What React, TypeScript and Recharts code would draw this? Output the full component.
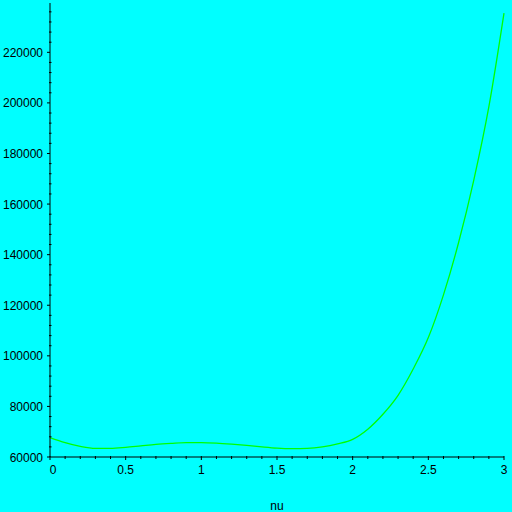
import React from "react";
import { LineChart, Line, XAxis, YAxis } from "recharts";

const nuValues = [
  0, 0.1, 0.2, 0.3, 0.4, 0.5, 0.6, 0.7, 0.8, 0.9, 1.0, 1.1, 1.2, 1.3, 1.4, 1.5,
  1.6, 1.7, 1.8, 1.9, 2.0, 2.1, 2.2, 2.3, 2.4, 2.5, 2.6, 2.7, 2.8, 2.9, 3.0,
];
const fValues = [
  67700, 65700, 64200, 63400, 63400, 63800, 64400, 65000, 65400, 65700, 65700,
  65500, 65100, 64600, 64000, 63500, 63300, 63400, 64000, 65200, 67000, 71000,
  76900, 84400, 94800, 107200, 124100, 144800, 169400, 198500, 235500,
];
const xTicks = [
  0, 0.1, 0.2, 0.3, 0.4, 0.5, 0.6, 0.7, 0.8, 0.9, 1, 1.1, 1.2, 1.3, 1.4, 1.5,
  1.6, 1.7, 1.8, 1.9, 2, 2.1, 2.2, 2.3, 2.4, 2.5, 2.6, 2.7, 2.8, 2.9, 3,
];
const xMajor = [0, 0.5, 1, 1.5, 2, 2.5, 3];
const yTicks = [
  60000, 64000, 68000, 72000, 76000, 80000, 84000, 88000, 92000, 96000, 100000,
  104000, 108000, 112000, 116000, 120000, 124000, 128000, 132000, 136000,
  140000, 144000, 148000, 152000, 156000, 160000, 164000, 168000, 172000,
  176000, 180000, 184000, 188000, 192000, 196000, 200000, 204000, 208000,
  212000, 216000, 220000, 224000, 228000, 232000, 236000,
];
const yMajor = [60000, 80000, 100000, 120000, 140000, 160000, 180000, 200000, 220000];

const data = nuValues.map((nu, i) => ({ nu, f: fValues[i] }));

const FONT = "'Liberation Sans', Arial, sans-serif";

const isIn = (arr: number[], v: number) => arr.some((a) => Math.abs(a - v) < 1e-6);

const XTick = (props: any) => {
  const { x, y, payload } = props;
  const v = payload.value;
  const major = isIn(xMajor, v);
  const shift = v === 0 ? 3 : 0;
  return (
    <g>
      <line x1={x} y1={y - 1} x2={x} y2={y + (major ? 3 : 2)} stroke="#000" strokeWidth={1} />
      {major && (
        <text x={x + shift} y={y + 17} textAnchor="middle" fontSize={12} fontFamily={FONT} fill="#000">
          {String(v)}
        </text>
      )}
    </g>
  );
};

const YTick = (props: any) => {
  const { x, y, payload } = props;
  const v = payload.value;
  const major = isIn(yMajor, v);
  return (
    <g>
      {major ? (
        <line x1={x - 3} y1={y} x2={x} y2={y} stroke="#000" strokeWidth={1} />
      ) : (
        <line x1={x - 1} y1={y} x2={x + 1.5} y2={y} stroke="#000" strokeWidth={1} />
      )}
      {major && (
        <text x={x - 7} y={y + 4.5} textAnchor="end" fontSize={12} fontFamily={FONT} fill="#000">
          {String(v)}
        </text>
      )}
    </g>
  );
};

export default function App() {
  return (
    <div style={{ position: "absolute", left: 0, top: 0, width: 512, height: 512, background: "#00ffff" }}>
      <LineChart
        width={512}
        height={512}
        data={data}
        margin={{ top: 3, right: 8, left: 0, bottom: 0 }}
        style={{ background: "#00ffff" }}
      >
        <XAxis
          dataKey="nu"
          type="number"
          domain={[0, 3]}
          ticks={xTicks}
          interval={0}
          height={55}
          tickSize={0}
          tickMargin={0}
          tickLine={false}
          axisLine={{ stroke: "#000", strokeWidth: 1 }}
          tick={<XTick />}
          label={{ value: "nu", position: "insideBottom", offset: 2, fontSize: 12, fontFamily: FONT, fill: "#000" }}
        />
        <YAxis
          type="number"
          domain={[60000, 239500]}
          ticks={yTicks}
          interval={0}
          width={50}
          tickSize={0}
          tickMargin={0}
          tickLine={false}
          axisLine={{ stroke: "#000", strokeWidth: 1 }}
          tick={<YTick />}
          allowDataOverflow
        />
        <Line
          type="monotone"
          dataKey="f"
          stroke="#00ff00"
          strokeWidth={1.3}
          dot={false}
          isAnimationActive={false}
        />
      </LineChart>
    </div>
  );
}
